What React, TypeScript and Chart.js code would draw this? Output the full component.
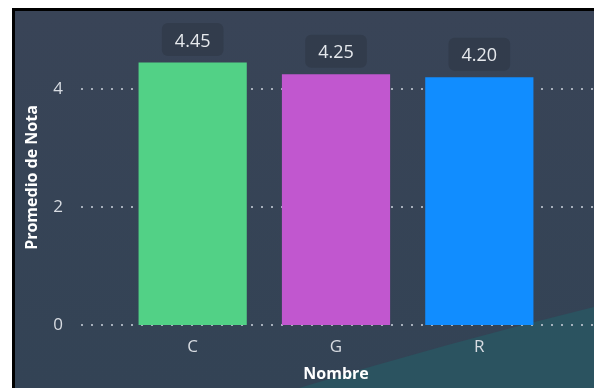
import React, { useEffect, useRef } from "react";
import { Chart, registerables } from "chart.js";

Chart.register(...registerables);

// Average grade per student name
const categories = ["C", "G", "R"];
const promedios = [4.45, 4.25, 4.2];
const barColors = ["#52D186", "#C157CF", "#118DFF"];
const yTickValues = [0, 2, 4];
const yTitle = "Promedio de Nota";
const xTitle = "Nombre";

const FONT = "'Open Sans', 'Noto Sans', 'DejaVu Sans', sans-serif";
const CANVAS_W = 579;
const CANVAS_H = 377;

// Panel backdrop: dark slate gradient with a teal swoosh in the lower right
const backdropPlugin = {
  id: "backdrop",
  beforeDraw(chart: any) {
    const { ctx, width, height } = chart;
    ctx.save();
    const g = ctx.createLinearGradient(0, 0, 0, height);
    g.addColorStop(0, "#394457");
    g.addColorStop(1, "#334355");
    ctx.fillStyle = g;
    ctx.fillRect(0, 0, width, height);
    ctx.beginPath();
    ctx.moveTo(284, height);
    ctx.quadraticCurveTo(432, 332, width, 296);
    ctx.lineTo(width, height);
    ctx.closePath();
    ctx.fillStyle = "#2b5360";
    ctx.fill();
    ctx.restore();
  },
};

// Dotted horizontal guides at each y tick, running past the plot edges
const dottedGridPlugin = {
  id: "dottedGrid",
  beforeDatasetsDraw(chart: any) {
    const { ctx, width } = chart;
    const y = chart.scales.y;
    ctx.save();
    ctx.strokeStyle = "rgba(195,202,212,0.8)";
    ctx.lineWidth = 2;
    ctx.setLineDash([2, 8]);
    y.ticks.forEach((t: any) => {
      const py = Math.round(y.getPixelForValue(t.value));
      ctx.beginPath();
      ctx.moveTo(66, py);
      ctx.lineTo(width, py);
      ctx.stroke();
    });
    ctx.restore();
  },
};

// Value labels in rounded boxes above each bar
const valueLabelPlugin = {
  id: "valueLabels",
  afterDatasetsDraw(chart: any) {
    const { ctx } = chart;
    const meta = chart.getDatasetMeta(0);
    ctx.save();
    ctx.font = `18px ${FONT}`;
    meta.data.forEach((bar: any, i: number) => {
      const text = promedios[i].toFixed(2);
      const w = ctx.measureText(text).width;
      const cy = bar.y - 21;
      const bw = w + 26;
      const bh = 33;
      ctx.beginPath();
      ctx.roundRect(bar.x - bw / 2, cy - bh / 2 - 2, bw, bh, 6);
      ctx.fillStyle = "#323c4c";
      ctx.fill();
      ctx.fillStyle = "#e6e9ed";
      ctx.textAlign = "center";
      ctx.textBaseline = "middle";
      ctx.fillText(text, bar.x, cy);
    });
    ctx.restore();
  },
};

export default function App() {
  const ref = useRef<HTMLCanvasElement | null>(null);

  useEffect(() => {
    if (!ref.current) return;
    const chart = new Chart(ref.current, {
      type: "bar",
      data: {
        labels: categories,
        datasets: [
          {
            label: yTitle,
            data: promedios,
            backgroundColor: barColors,
            borderWidth: 0,
            barPercentage: 0.755,
            categoryPercentage: 1,
          },
        ],
      },
      options: {
        animation: false,
        responsive: false,
        devicePixelRatio: 1,
        layout: { padding: { top: 19, right: 43, left: 0, bottom: 0 } },
        plugins: {
          legend: { display: false },
          tooltip: { enabled: false },
        },
        scales: {
          x: {
            grid: { display: false },
            border: { display: false },
            ticks: {
              color: "#d8dce2",
              font: { family: FONT, size: 17 },
              padding: 4,
            },
            title: {
              display: true,
              text: xTitle,
              color: "#ffffff",
              font: { family: FONT, size: 16, weight: "bold" },
              padding: { top: 0, bottom: 4 },
            },
            afterFit: (s: any) => {
              s.height = 63;
              s.paddingLeft = 0;
              s.paddingRight = 0;
            },
          },
          y: {
            min: 0,
            max: 5,
            grid: { display: false },
            border: { display: false },
            ticks: {
              color: "#d8dce2",
              font: { family: FONT, size: 17 },
              padding: 50,
            },
            afterBuildTicks: (s: any) => {
              s.ticks = yTickValues.map((v) => ({ value: v }));
            },
            title: {
              display: true,
              text: yTitle,
              color: "#ffffff",
              font: { family: FONT, size: 16, weight: "bold" },
              padding: { top: 8, bottom: 0 },
            },
            afterFit: (s: any) => {
              s.width = 106;
              s.paddingTop = 0;
              s.paddingBottom = 0;
            },
          },
        },
      },
      plugins: [backdropPlugin, dottedGridPlugin, valueLabelPlugin],
    });
    return () => chart.destroy();
  }, []);

  return (
    <div
      style={{
        position: "fixed",
        left: 0,
        top: 0,
        width: 594,
        height: 388,
        background: "#ffffff",
        overflow: "hidden",
      }}
    >
      <div
        style={{
          position: "absolute",
          left: 12,
          top: 8,
          width: 582,
          height: 380,
          boxSizing: "border-box",
          borderLeft: "3px solid #000",
          borderTop: "3px solid #000",
        }}
      >
        <canvas
          ref={ref}
          width={CANVAS_W}
          height={CANVAS_H}
          style={{ display: "block", width: CANVAS_W, height: CANVAS_H }}
        />
      </div>
    </div>
  );
}
